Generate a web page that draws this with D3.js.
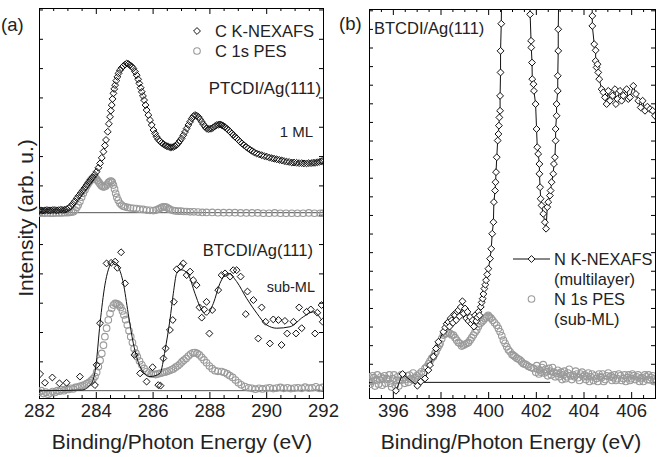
<!DOCTYPE html>
<html><head><meta charset="utf-8">
<script src="https://cdn.jsdelivr.net/npm/d3@7"></script>
<style>
body{margin:0;background:#fff}
svg{display:block;font-family:"Liberation Sans",Arial,Helvetica,sans-serif}
</style>
</head><body>
<svg id="chart" width="661" height="457"></svg>
<script>
// ---- Panel (a): carbon edge, energies in eV, intensities in arbitrary units ----
const ptcdiNexafs = [
  [282.0,6.14],[282.07,6.15],[282.14,6.14],[282.21,6.15],[282.28,6.16],[282.35,6.15],[282.42,6.15],[282.49,6.16],
  [282.56,6.16],[282.63,6.15],[282.7,6.16],[282.77,6.17],[282.84,6.16],[282.91,6.17],[282.98,6.19],[283.05,6.23],
  [283.12,6.29],[283.19,6.37],[283.26,6.46],[283.33,6.56],[283.4,6.65],[283.47,6.74],[283.54,6.83],[283.61,6.92],
  [283.68,7.01],[283.75,7.10],[283.82,7.19],[283.89,7.28],[283.96,7.37],[284.03,7.47],[284.09,7.6],[284.15,7.75],
  [284.21,7.94],[284.27,8.15],[284.32,8.36],[284.36,8.55],[284.42,8.83],[284.46,9.1],[284.5,9.34],[284.53,9.55],
  [284.56,9.74],[284.59,9.95],[284.62,10.14],[284.65,10.29],[284.68,10.42],[284.72,10.57],[284.76,10.70],[284.8,10.82],
  [284.85,10.93],[284.91,11.01],[284.97,11.07],[285.03,11.12],[285.09,11.16],[285.15,11.14],[285.2,11.1],[285.26,11.06],
  [285.32,10.99],[285.38,10.88],[285.44,10.76],[285.49,10.62],[285.53,10.48],[285.58,10.33],[285.62,10.19],[285.66,10.05],
  [285.7,9.91],[285.75,9.74],[285.79,9.57],[285.85,9.40],[285.91,9.23],[285.97,9.06],[286.03,8.89],[286.09,8.77],
  [286.14,8.66],[286.2,8.57],[286.26,8.51],[286.32,8.45],[286.38,8.41],[286.44,8.37],[286.5,8.34],[286.56,8.32],
  [286.62,8.30],[286.67,8.30],[286.73,8.31],[286.79,8.34],[286.85,8.38],[286.91,8.45],[286.96,8.52],[287.02,8.60],
  [287.08,8.71],[287.14,8.82],[287.2,8.94],[287.26,9.06],[287.32,9.17],[287.38,9.28],[287.44,9.36],[287.49,9.40],
  [287.55,9.38],[287.61,9.34],[287.67,9.26],[287.73,9.17],[287.79,9.08],[287.85,9.0],[287.9,8.94],[287.96,8.92],
  [288.02,8.93],[288.08,8.94],[288.14,8.98],[288.2,9.02],[288.26,9.06],[288.32,9.07],[288.37,9.08],[288.43,9.06],
  [288.49,9.03],[288.55,8.99],[288.61,8.94],[288.67,8.89],[288.73,8.83],[288.79,8.77],[288.84,8.72],[288.9,8.66],
  [288.96,8.61],[289.02,8.55],[289.08,8.49],[289.15,8.43],[289.22,8.37],[289.3,8.31],[289.37,8.26],[289.44,8.21],
  [289.51,8.17],[289.58,8.13],[289.66,8.09],[289.75,8.06],[289.84,8.03],[289.93,8.0],[290.02,7.98],[290.11,7.95],
  [290.2,7.93],[290.28,7.91],[290.37,7.89],[290.46,7.87],[290.55,7.85],[290.63,7.83],[290.72,7.81],[290.81,7.80],
  [290.9,7.78],[290.98,7.78],[291.07,7.77],[291.16,7.76],[291.25,7.76],[291.33,7.75],[291.42,7.75],[291.5,7.76],
  [291.58,7.76],[291.65,7.77],[291.72,7.77],[291.8,7.79],[291.87,7.80],[291.94,7.82],[291.99,7.83]
];
const ptcdiPes = [
  [282.0,6.05],[282.1,6.06],[282.2,6.05],[282.3,6.06],[282.4,6.05],[282.5,6.05],[282.6,6.06],[282.7,6.06],
  [282.8,6.06],[282.9,6.07],[283.0,6.07],[283.07,6.08],[283.14,6.09],[283.21,6.10],[283.27,6.16],[283.33,6.25],
  [283.38,6.33],[283.44,6.45],[283.5,6.6],[283.56,6.73],[283.62,6.85],[283.67,6.96],[283.72,7.04],[283.77,7.12],
  [283.82,7.18],[283.87,7.23],[283.92,7.26],[283.97,7.26],[284.02,7.22],[284.06,7.17],[284.1,7.12],[284.15,7.05],
  [284.2,6.99],[284.25,6.95],[284.3,6.95],[284.35,6.98],[284.4,7.04],[284.45,7.1],[284.5,7.14],[284.54,7.15],
  [284.58,7.11],[284.62,7.01],[284.66,6.88],[284.7,6.73],[284.74,6.6],[284.79,6.49],[284.85,6.39],[284.91,6.33],
  [284.97,6.29],[285.03,6.27],[285.12,6.25],[285.22,6.23],[285.32,6.22],[285.43,6.21],[285.55,6.19],[285.67,6.18],
  [285.79,6.16],[285.91,6.15],[286.03,6.14],[286.12,6.16],[286.2,6.19],[286.26,6.22],[286.32,6.25],[286.38,6.27],
  [286.44,6.27],[286.5,6.25],[286.56,6.21],[286.61,6.18],[286.7,6.15],[286.8,6.13],[286.9,6.12],[287.0,6.12],
  [287.1,6.11],[287.2,6.11],[287.32,6.10],[287.45,6.10],[287.6,6.09],[287.75,6.08],[287.9,6.08],[288.1,6.08],
  [288.3,6.07],[288.5,6.07],[288.7,6.07],[288.9,6.07],[289.1,6.06],[289.3,6.06],[289.5,6.06],[289.7,6.06],
  [289.9,6.05],[290.1,6.05],[290.3,6.06],[290.5,6.05],[290.7,6.05],[290.9,6.05],[291.1,6.05],[291.3,6.05],
  [291.5,6.06],[291.7,6.05],[291.9,6.05],[292.0,6.05]
];
const btcdiNexafsC = [
  [282.04,0.57],[282.21,0.27],[282.47,0.45],[282.72,0.25],[282.97,0.27],[283.44,0.48],[283.97,0.19],
  [284.03,0.88],[284.15,2.30],[284.38,4.34],[284.54,4.36],[284.68,4.40],[284.76,4.19],[284.89,4.72],
  [285.03,3.66],[285.36,1.22],[285.56,0.59],[285.79,0.31],[286.0,0.80],[286.2,0.19],[286.28,0.17],
  [286.38,1.10],[286.46,1.44],[286.61,2.07],[286.71,2.41],[286.75,3.03],[286.85,4.14],[286.99,4.23],
  [287.08,4.34],[287.2,3.94],[287.32,4.06],[287.43,3.77],[287.55,3.60],[287.65,2.84],[287.73,2.49],
  [287.82,2.77],[287.9,3.03],[288.0,1.95],[288.1,2.75],[288.31,3.43],[288.43,3.94],[288.55,4.0],
  [288.73,3.89],[288.84,4.11],[288.96,4.11],[289.1,3.89],[289.28,2.61],[289.34,3.38],[289.55,3.09],
  [289.72,1.78],[289.84,2.84],[289.98,2.35],[290.13,1.61],[290.25,2.43],[290.43,2.41],[290.54,1.56],
  [290.66,2.38],[290.74,1.95],[290.96,2.35],[291.05,1.95],[291.16,2.84],[291.25,2.13],[291.42,2.69],
  [291.57,2.77],[291.72,1.95],[291.8,2.66],[291.95,2.92],[291.99,2.35]
];
const btcdiFitC = [
  [282.0,0.0],[283.5,0.02],[283.85,0.25],[284.0,0.82],[284.15,2.30],[284.32,3.60],[284.44,4.12],
  [284.62,4.40],[284.79,4.23],[284.97,3.66],[285.14,2.64],[285.32,1.62],[285.56,0.82],[285.91,0.48],
  [286.26,0.59],[286.44,1.39],[286.61,2.41],[286.73,3.32],[286.85,4.0],[287.02,4.12],[287.26,3.95],
  [287.49,3.32],[287.67,2.86],[287.9,2.58],[288.14,2.98],[288.37,3.66],[288.67,4.0],[288.96,3.72],
  [289.31,3.15],[289.67,2.64],[290.02,2.24],[290.37,2.13],[290.84,2.18],[291.31,2.52],[291.66,2.69],[291.95,2.41]
];
const btcdiPesC = [
  [282.0,-0.05],[282.08,0.0],[282.16,-0.1],[282.24,-0.05],[282.32,-0.12],[282.4,-0.08],[282.48,-0.03],[282.56,-0.06],
  [282.64,0.0],[282.72,-0.02],[282.8,0.03],[282.88,0.0],[282.96,0.05],[283.04,0.04],[283.12,0.08],[283.2,0.06],
  [283.28,0.11],[283.36,0.12],[283.44,0.15],[283.52,0.17],[283.6,0.2],[283.68,0.24],[283.76,0.28],[283.84,0.34],
  [283.9,0.4],[283.97,0.48],[284.03,0.63],[284.09,0.82],[284.15,1.03],[284.21,1.27],[284.27,1.55],[284.32,1.84],
  [284.38,2.13],[284.44,2.41],[284.5,2.63],[284.56,2.81],[284.62,2.92],[284.68,2.98],[284.73,2.97],[284.78,2.94],
  [284.83,2.9],[284.88,2.84],[284.94,2.72],[284.99,2.58],[285.05,2.42],[285.11,2.24],[285.17,2.04],[285.23,1.84],
  [285.29,1.64],[285.35,1.44],[285.41,1.28],[285.46,1.16],[285.54,1.01],[285.62,0.88],[285.7,0.76],[285.79,0.65],
  [285.87,0.6],[285.95,0.57],[286.03,0.56],[286.11,0.55],[286.18,0.57],[286.26,0.59],[286.34,0.61],[286.42,0.63],
  [286.5,0.65],[286.58,0.68],[286.66,0.71],[286.73,0.74],[286.81,0.8],[286.89,0.85],[286.96,0.91],[287.03,0.98],
  [287.1,1.04],[287.18,1.10],[287.26,1.18],[287.34,1.25],[287.42,1.29],[287.49,1.30],[287.57,1.27],[287.65,1.22],
  [287.73,1.14],[287.81,1.05],[287.9,0.95],[288.0,0.84],[288.1,0.75],[288.2,0.68],[288.3,0.66],[288.43,0.65],
  [288.53,0.62],[288.63,0.57],[288.72,0.51],[288.82,0.45],[288.92,0.36],[289.02,0.27],[289.12,0.2],[289.25,0.14],
  [289.38,0.1],[289.5,0.08],[289.62,0.05],[289.75,0.08],[289.87,0.06],[290.0,0.08],[290.12,0.1],[290.25,0.07],
  [290.37,0.09],[290.5,0.11],[290.62,0.08],[290.75,0.1],[290.87,0.07],[291.0,0.09],[291.12,0.1],[291.25,0.08],
  [291.37,0.12],[291.5,0.09],[291.62,0.1],[291.75,0.13],[291.87,0.08],[291.98,0.11]
];
const baselinesA = [6.07, 0];

// ---- Panel (b): nitrogen edge ----
const btcdiNexafsN = [
  [396.13,-0.45],[396.41,0.45],[397.03,-0.18],[397.17,0.04],[397.35,0.21],[397.49,0.66],[397.56,0.93],
  [397.7,1.38],[397.81,1.82],[397.91,2.18],[398.12,2.72],[398.2,2.95],[398.26,3.15],[398.33,3.25],[398.38,3.0],
  [398.43,3.45],[398.47,3.34],[398.52,3.2],[398.57,3.65],[398.61,3.61],[398.66,3.35],[398.7,3.8],[398.75,3.88],
  [398.8,3.55],[398.85,4.05],[398.92,4.36],[398.97,3.7],[399.03,3.97],[399.08,3.45],[399.13,3.79],[399.18,3.3],
  [399.24,3.52],[399.29,3.15],[399.35,3.34],[399.4,3.0],[399.45,3.61],[399.5,3.3],[399.55,3.5],[399.59,3.79],
  [399.64,3.6],[399.69,4.06],[399.73,4.3],[399.77,4.50],[399.8,4.75],[399.84,5.04],[399.88,5.25],[399.91,5.49],
  [399.96,5.8],[400.01,6.11],[400.08,6.65],
  [400.13,7.18],[400.17,7.99],[400.22,8.61],[400.24,9.69],[400.29,10.31],[400.31,10.76],[400.33,11.3],
  [400.36,12.1],[400.4,13.0],[400.43,13.35],[400.45,13.8],[400.47,14.24],[400.5,14.6],[400.5,15.4],
  [400.52,16.66],[400.52,17.82],[400.55,19.28],[400.57,21.5],
  [401.74,21.5],[401.76,19.78],[401.8,18.36],[401.81,18.0],[401.84,17.19],[401.85,16.3],[401.9,16.03],
  [401.92,15.67],[401.99,14.96],[402.03,13.62],[402.06,12.64],[402.1,12.28],[402.15,11.74],[402.15,11.21],
  [402.18,10.49],[402.2,9.87],[402.24,9.51],[402.31,9.06],[402.38,8.61],[402.43,8.26],[402.48,9.42],
  [402.52,9.69],[402.59,10.04],[402.62,10.31],[402.66,10.76],[402.73,11.21],[402.76,11.74],[402.8,12.1],
  [402.83,12.99],[402.83,13.62],[402.87,14.33],[402.87,14.96],[402.92,15.67],[402.92,16.48],[402.94,17.82],
  [402.94,18.98],[402.97,21.5],
  [404.34,21.5],[404.37,19.7],[404.37,19.16],[404.45,18.18],[404.51,17.85],[404.51,17.28],[404.55,16.93],
  [404.59,17.1],[404.62,16.66],[404.66,16.3],[404.76,15.76],[404.83,15.59],[404.9,15.32],[404.97,14.96],
  [405.04,15.67],[405.11,15.14],[405.22,15.41],[405.32,15.76],[405.36,14.96],[405.42,15.23],[405.53,15.67],
  [405.6,15.14],[405.67,15.41],[405.81,15.76],[405.88,15.23],[405.95,15.32],[406.09,15.94],[406.2,15.5],
  [406.3,15.14],[406.4,14.78],[406.48,15.14],[406.58,14.6],[406.68,14.82],[406.79,14.69],[406.9,14.6],[407.0,14.33]
];
const btcdiPesN = [
  [395.0,0.3],[395.1,0.05],[395.2,0.25],[395.3,0.13],[395.4,-0.1],[395.5,0.3],[395.6,0.21],[395.7,-0.05],
  [395.8,0.15],[395.9,-0.05],[396.0,0.2],[396.1,-0.15],[396.2,0.3],[396.3,0.1],[396.4,0.13],[396.5,-0.05],
  [396.6,0.35],[396.7,0.39],[396.8,0.15],[396.9,0.1],[397.0,0.35],[397.1,0.45],[397.2,0.57],[397.28,0.5],
  [397.35,0.75],[397.42,0.84],[397.5,1.0],[397.56,1.15],[397.63,1.29],[397.7,1.38],[397.76,1.55],[397.81,1.64],
  [397.88,1.85],[397.94,2.0],[397.98,2.09],[398.05,2.35],[398.12,2.54],[398.19,2.6],[398.26,2.63],[398.33,2.68],
  [398.4,2.63],[398.47,2.55],[398.54,2.54],[398.61,2.4],[398.68,2.27],[398.75,2.15],[398.82,2.09],[398.89,1.95],
  [398.96,2.0],[399.03,2.05],[399.1,2.09],[399.17,2.15],[399.24,2.27],[399.31,2.4],[399.38,2.54],[399.45,2.7],
  [399.52,2.81],[399.59,3.0],[399.66,3.16],[399.73,3.25],[399.8,3.34],[399.87,3.45],[399.94,3.52],[400.0,3.6],
  [400.05,3.52],[400.12,3.45],[400.19,3.34],[400.27,3.2],[400.36,3.07],[400.43,2.9],[400.5,2.72],[400.57,2.5],
  [400.64,2.27],[400.71,2.1],[400.78,1.91],[400.85,1.75],[400.92,1.64],[401.0,1.5],[401.06,1.45],[401.13,1.38],
  [401.2,1.3],[401.27,1.25],[401.34,1.20],[401.41,1.1],[401.48,1.0],[401.55,0.98],[401.62,0.93],[401.7,0.85],
  [401.8,0.8],[401.9,0.75],[402.0,0.55],[402.08,0.7],[402.17,0.66],[402.26,0.8],[402.35,0.5],[402.45,0.57],
  [402.55,0.75],[402.65,0.4],[402.75,0.55],[402.87,0.48],[402.97,0.3],[403.06,0.55],[403.15,0.39],[403.25,0.2],
  [403.35,0.5],[403.45,0.35],[403.57,0.39],[403.67,0.6],[403.77,0.25],[403.88,0.45],[403.99,0.30],[404.1,0.15],
  [404.2,0.5],[404.3,0.3],[404.42,0.1],[404.55,0.21],[404.65,0.45],[404.75,0.25],[404.85,0.05],[404.97,0.35],
  [405.11,0.30],[405.2,0.1],[405.3,0.4],[405.42,0.2],[405.55,0.35],[405.67,0.21],[405.78,0.05],[405.9,0.4],
  [406.0,0.2],[406.1,0.35],[406.23,0.30],[406.35,0.05],[406.45,0.25],[406.57,0.4],[406.68,0.15],[406.79,0.13],
  [406.9,0.35],[407.0,0.2],
  [395.05,-0.1],[395.15,0.35],[395.25,-0.2],[395.35,0.4],[395.45,0.15],[395.55,-0.15],[395.65,0.35],[395.75,0.2],
  [395.85,0.4],[395.95,-0.25],[396.05,0.4],[396.15,0.1],[396.25,-0.2],[396.35,0.4],[396.45,0.25],[396.55,0.15],
  [396.65,0.0],[396.75,0.2],[396.85,0.5],[396.95,0.25],[397.05,0.15],
  [402.04,0.9],[402.13,0.45],[402.22,0.55],[402.31,0.95],[402.4,0.7],[402.5,0.35],[402.6,0.6],[402.7,0.8],
  [402.81,0.3],[402.92,0.65],[403.02,0.45],[403.1,0.15],[403.2,0.6],[403.3,0.3],[403.4,0.7],[403.51,0.15],
  [403.62,0.3],[403.72,0.45],[403.83,0.1],[403.94,0.55],[404.05,0.4],[404.15,0.3],[404.25,0.05],[404.36,0.45],
  [404.48,0.35],[404.6,0.05],[404.7,0.3],[404.8,0.45],[404.91,0.15],[405.04,0.5],[405.16,0.35],[405.25,0.25],
  [405.36,0.1],[405.48,0.45],[405.6,0.1],[405.72,0.4],[405.84,0.25],[405.95,0.1],[406.05,0.45],[406.16,0.15],
  [406.29,0.4],[406.4,0.2],[406.51,0.05],[406.62,0.3],[406.73,0.4],[406.84,0.25],[406.95,0.05]
];
const baselineB = [397.3, 402.6];

const majorA = [282,284,286,288,290,292];
const majorB = [396,398,400,402,404,406];

const svg = d3.select("#chart");
const BOTTOM = 398;

const xa = d3.scaleLinear().domain([282, 292]).range([39, 323]);
const ya = d3.scaleLinear().domain([-0.25, 13.05]).range([BOTTOM, 8]);
const xb = d3.scaleLinear().domain([395, 407]).range([369, 655]);
const yb = d3.scaleLinear().domain([-0.84, 20.07]).range([BOTTOM, 9]);

function minorTicks(x0, x1, step) {
  const out = [];
  for (let v = x0; v <= x1 + 1e-9; v += step) out.push(+v.toFixed(2));
  return out;
}

function frame(x, y, major, id) {
  const [l, r] = x.range();
  const [b, t] = y.range();
  const g = svg.append("g");
  const [d0, d1] = x.domain();
  const minors = minorTicks(Math.ceil(d0 * 2) / 2, d1, 0.5).filter(v => !major.includes(v));
  const yt = d3.range(Math.ceil(y.domain()[0]), Math.floor(y.domain()[1]) + 1);

  const style = sel => {
    sel.selectAll("path.domain").attr("stroke", "#000").attr("stroke-width", 1);
    sel.selectAll(".tick line").attr("stroke", "#000");
    return sel;
  };
  // bottom axis with labels
  style(g.append("g").attr("transform", `translate(0,${b})`)
    .call(d3.axisBottom(x).tickValues(major).tickSize(-6).tickPadding(6).tickFormat(d3.format("d"))))
    .selectAll("text").attr("font-size", 18.5).attr("fill", "#222");
  style(g.append("g").attr("transform", `translate(0,${b})`)
    .call(d3.axisBottom(x).tickValues(minors).tickSize(-3).tickFormat("")));
  // top axis (ticks only)
  style(g.append("g").attr("transform", `translate(0,${t})`)
    .call(d3.axisTop(x).tickValues(major).tickSize(-6).tickFormat("")));
  style(g.append("g").attr("transform", `translate(0,${t})`)
    .call(d3.axisTop(x).tickValues(minors).tickSize(-3).tickFormat("")));
  // left / right axes (ticks only)
  style(g.append("g").attr("transform", `translate(${l},0)`)
    .call(d3.axisLeft(y).tickValues(yt).tickSize(-4).tickFormat("")));
  style(g.append("g").attr("transform", `translate(${r},0)`)
    .call(d3.axisRight(y).tickValues(yt).tickSize(-4).tickFormat("")));
  g.selectAll("path.domain").attr("shape-rendering", "crispEdges");

  svg.append("clipPath").attr("id", id).append("rect")
    .attr("x", l).attr("y", t).attr("width", r - l).attr("height", b - t);
}

frame(xa, ya, majorA, "clipA");
frame(xb, yb, majorB, "clipB");

const diamond = d3.symbol().type(d3.symbolDiamond2).size(30);
const GRAY = "#9a9a9a";

function drawCircles(g, data, x, y) {
  g.append("g").selectAll("circle").data(data).join("circle")
    .attr("cx", d => x(d[0])).attr("cy", d => y(d[1])).attr("r", 3.3)
    .attr("fill", "none").attr("stroke", GRAY).attr("stroke-width", 1.1);
}
function drawDiamonds(g, data, x, y, fill) {
  g.append("g").selectAll("path").data(data).join("path")
    .attr("d", diamond)
    .attr("transform", d => `translate(${x(d[0])},${y(d[1])})`)
    .attr("fill", fill).attr("stroke", "#111").attr("stroke-width", 1);
}

// ---- panel (a) marks ----
const ga = svg.append("g").attr("clip-path", "url(#clipA)");
baselinesA.forEach(v => {
  ga.append("line").attr("x1", xa(282)).attr("x2", xa(292))
    .attr("y1", ya(v)).attr("y2", ya(v)).attr("stroke", "#555").attr("stroke-width", 1);
});
drawCircles(ga, ptcdiPes, xa, ya);
drawDiamonds(ga, ptcdiNexafs, xa, ya, "none");
drawCircles(ga, btcdiPesC, xa, ya);
drawDiamonds(ga, btcdiNexafsC, xa, ya, "none");
ga.append("path").datum(btcdiFitC)
  .attr("d", d3.line().x(d => xa(d[0])).y(d => ya(d[1])).curve(d3.curveMonotoneX))
  .attr("fill", "none").attr("stroke", "#111").attr("stroke-width", 1);

// ---- panel (b) marks ----
const gb = svg.append("g").attr("clip-path", "url(#clipB)");
gb.append("line").attr("x1", xb(baselineB[0])).attr("x2", xb(baselineB[1]))
  .attr("y1", yb(0)).attr("y2", yb(0)).attr("stroke", "#111").attr("stroke-width", 1);
drawCircles(gb, btcdiPesN, xb, yb);
gb.append("path").datum(btcdiNexafsN)
  .attr("d", d3.line().x(d => xb(d[0])).y(d => yb(d[1])))
  .attr("fill", "none").attr("stroke", "#111").attr("stroke-width", 1);
drawDiamonds(gb, btcdiNexafsN, xb, yb, "#fff");

// ---- text ----
const txt = (x, y, s, size, anchor = "start", fill = "#222") =>
  svg.append("text").attr("x", x).attr("y", y).attr("font-size", size)
    .attr("text-anchor", anchor).attr("fill", fill).text(s);

txt(1, 31, "(a)", 18.5);
txt(339, 30, "(b)", 18.5);
txt(374, 34, "BTCDI/Ag(111)", 16.5);

// legend (a)
drawDiamonds(svg, [[0, 0]], () => 197, () => 31, "none");
svg.append("circle").attr("cx", 197).attr("cy", 51).attr("r", 3.3)
  .attr("fill", "none").attr("stroke", GRAY).attr("stroke-width", 1.1);
txt(215, 37, "C K-NEXAFS", 16.5);
txt(215, 57, "C 1s PES", 16.5);
txt(321, 94, "PTCDI/Ag(111)", 16.8, "end");
txt(313, 137, "1 ML", 15, "end");
txt(313, 256, "BTCDI/Ag(111)", 16.5, "end");
txt(315, 292, "sub-ML", 14.5, "end");

// legend (b)
svg.append("line").attr("x1", 513).attr("x2", 550).attr("y1", 259).attr("y2", 259)
  .attr("stroke", "#111").attr("stroke-width", 1);
drawDiamonds(svg, [[0, 0]], () => 531.5, () => 259, "#fff");
svg.append("circle").attr("cx", 531.5).attr("cy", 299).attr("r", 3.3)
  .attr("fill", "none").attr("stroke", GRAY).attr("stroke-width", 1.1);
txt(554, 265, "N K-NEXAFS", 16.4);
txt(554, 285, "(multilayer)", 16.4);
txt(554, 305, "N 1s PES", 16.4);
txt(554, 325, "(sub-ML)", 16.4);

// axis titles
txt(182, 449, "Binding/Photon Energy (eV)", 21, "middle");
txt(511, 449, "Binding/Photon Energy (eV)", 21, "middle");
svg.append("text").attr("transform", "translate(33,218) rotate(-90)")
  .attr("font-size", 21).attr("text-anchor", "middle").attr("fill", "#222")
  .text("Intensity (arb. u.)");
</script>
</body></html>
